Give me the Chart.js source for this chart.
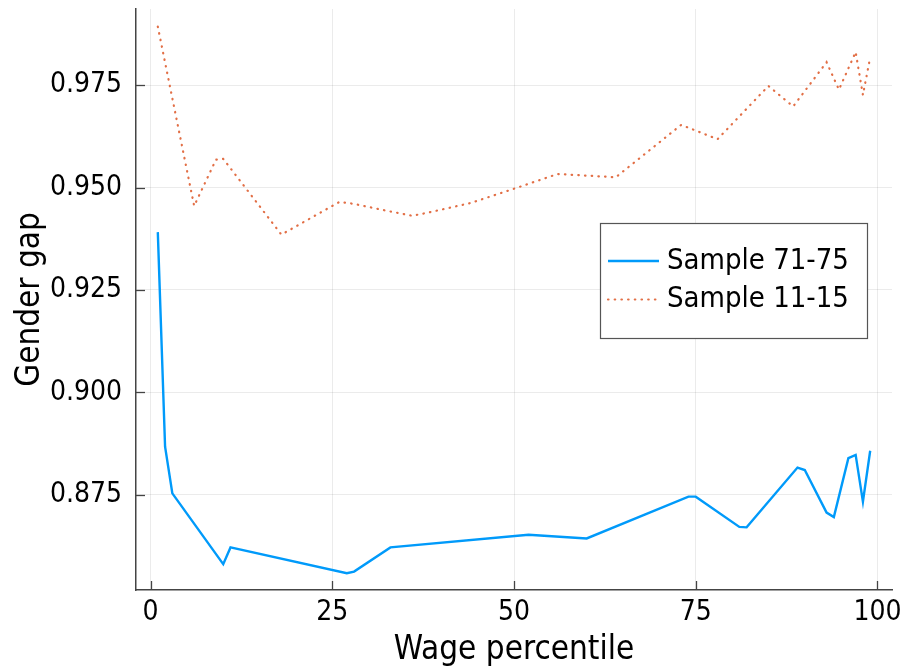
<!DOCTYPE html>
<html>
<head>
<meta charset="utf-8">
<script src="https://cdn.jsdelivr.net/npm/chart.js@4"></script>
<style>
  html, body { margin: 0; padding: 0; background: #fff; }
  #wrap { width: 906px; height: 670px; }
</style>
</head>
<body>
<div id="wrap"><canvas id="gapChart" width="906" height="670"></canvas></div>
<script>
// Sample 71-75 (solid blue)
const x7175 = [1, 2, 3, 10, 11, 27, 28, 33, 52, 60, 74, 75, 81, 82, 89, 90, 93, 94, 96, 97, 98, 99];
const y7175 = [0.9391, 0.8867, 0.8753, 0.8580, 0.8621, 0.8558, 0.8562, 0.8621, 0.8652, 0.8643, 0.8745, 0.8745,
               0.8671, 0.8670, 0.8816, 0.8810, 0.8706, 0.8695, 0.8839, 0.8847, 0.8733, 0.8857];
// Sample 11-15 (dotted orange)
const x1115 = [1, 6, 9, 10, 18, 26, 28, 32, 36, 38, 44, 50, 56, 64, 73, 78, 85, 88.4, 93, 94.7, 97, 98, 99];
const y1115 = [0.9893, 0.9455, 0.9568, 0.9570, 0.9385, 0.9465, 0.9460, 0.9445, 0.9431, 0.9438, 0.9462, 0.9497,
               0.9533, 0.9525, 0.9653, 0.9618, 0.9748, 0.9698, 0.9806, 0.9739, 0.9831, 0.9726, 0.9818];

const xTicks = [0, 25, 50, 75, 100];
const yTicks = [0.875, 0.900, 0.925, 0.950, 0.975];
const seriesNames = ['Sample 71-75', 'Sample 11-15'];

const fam = "'DejaVu Sans Condensed', 'DejaVu Sans', sans-serif";
const blue = '#009AFA';
const orange = '#E26F46';

const pts = (xs, ys) => xs.map((x, i) => ({ x: x, y: ys[i] }));

// ticks pointing into the plot, like the original
const insideTicks = {
  id: 'insideTicks',
  afterDraw(chart) {
    const { ctx, chartArea: a, scales: { x, y } } = chart;
    ctx.save();
    ctx.strokeStyle = '#444';
    ctx.lineWidth = 1.3;
    xTicks.forEach(v => {
      const px = Math.round(x.getPixelForValue(v)) + 0.5;
      ctx.beginPath(); ctx.moveTo(px, a.bottom); ctx.lineTo(px, a.bottom - 9); ctx.stroke();
    });
    yTicks.forEach(v => {
      const py = Math.round(y.getPixelForValue(v)) + 0.5;
      ctx.beginPath(); ctx.moveTo(a.left, py); ctx.lineTo(a.left + 9, py); ctx.stroke();
    });
    ctx.restore();
  }
};

// legend box inside the plot
const boxLegend = {
  id: 'boxLegend',
  afterDraw(chart) {
    const ctx = chart.ctx;
    const bx = 600, by = 223, bw = 267, bh = 115;
    ctx.save();
    ctx.fillStyle = '#fff';
    ctx.fillRect(bx, by, bw, bh);
    ctx.strokeStyle = '#555';
    ctx.lineWidth = 1.2;
    ctx.strokeRect(bx + 0.5, by + 0.5, bw, bh);
    chart.data.datasets.forEach((ds, i) => {
      const ly = 261 + i * 38.5;
      ctx.beginPath();
      ctx.strokeStyle = ds.borderColor;
      ctx.lineWidth = ds.borderWidth;
      ctx.lineCap = ds.borderCapStyle || 'butt';
      ctx.setLineDash(ds.borderDash || []);
      ctx.moveTo(608, ly); ctx.lineTo(659, ly);
      ctx.stroke();
      ctx.setLineDash([]);
      ctx.fillStyle = '#000';
      ctx.font = '29px ' + fam;
      ctx.textBaseline = 'middle';
      ctx.fillText(ds.label, 667, ly);
    });
    ctx.restore();
  }
};

new Chart(document.getElementById('gapChart').getContext('2d'), {
  type: 'line',
  data: {
    datasets: [{
      label: seriesNames[0],
      data: pts(x7175, y7175),
      borderColor: blue,
      borderWidth: 2.4,
      pointRadius: 0,
      tension: 0,
      fill: false
    }, {
      label: seriesNames[1],
      data: pts(x1115, y1115),
      borderColor: orange,
      borderWidth: 2.2,
      borderDash: [0.5, 6.2],
      borderCapStyle: 'round',
      pointRadius: 0,
      tension: 0,
      fill: false
    }]
  },
  options: {
    responsive: false,
    animation: false,
    layout: { padding: { top: 9, right: 14, left: 0, bottom: 0 } },
    plugins: { legend: { display: false }, tooltip: { enabled: false } },
    scales: {
      x: {
        type: 'linear',
        min: -2,
        max: 102,
        afterBuildTicks: s => { s.ticks = xTicks.map(v => ({ value: v })); },
        afterFit: s => { s.height = 80; s.paddingLeft = 0; s.paddingRight = 0; },
        grid: { color: 'rgba(0,0,0,0.08)', lineWidth: 1, drawTicks: false },
        border: { display: true, color: '#444', width: 1.5 },
        ticks: { color: '#000', padding: 6, maxRotation: 0, font: { family: fam, size: 28 } },
        title: { display: true, text: 'Wage percentile', color: '#000', padding: { top: 0, bottom: 0 },
                 font: { family: fam, size: 33 } }
      },
      y: {
        type: 'linear',
        min: 0.8517,
        max: 0.9936,
        afterBuildTicks: s => { s.ticks = yTicks.map(v => ({ value: v })); },
        afterFit: s => { s.width = 136; s.paddingTop = 0; s.paddingBottom = 0; },
        grid: { color: 'rgba(0,0,0,0.08)', lineWidth: 1, drawTicks: false },
        border: { display: true, color: '#444', width: 1.5 },
        ticks: { color: '#000', padding: 14, font: { family: fam, size: 28 },
                 callback: v => v.toFixed(3) },
        title: { display: true, text: 'Gender gap', color: '#000', padding: { top: 11, bottom: 0 },
                 font: { family: fam, size: 33 } }
      }
    }
  },
  plugins: [insideTicks, boxLegend]
});
</script>
</body>
</html>
